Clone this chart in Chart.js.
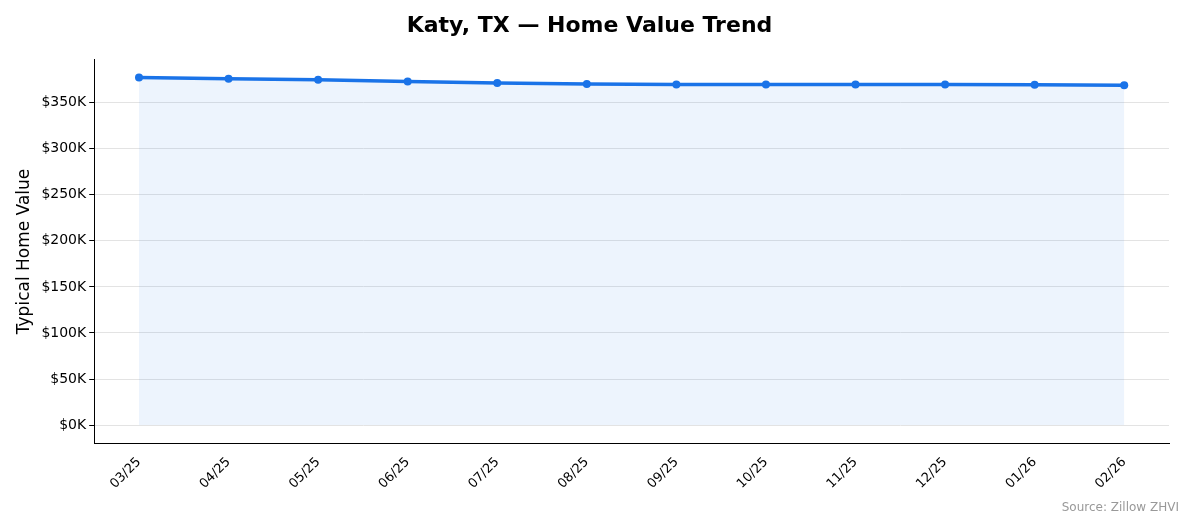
<!DOCTYPE html>
<html><head><meta charset="utf-8">
<script src="https://cdn.jsdelivr.net/npm/chart.js@4"></script>
<style>body{margin:0;background:#fff}#w{position:relative;width:1194px;height:529px}
#src{position:absolute;right:15px;bottom:15px;font:12px "DejaVu Sans";color:#999}</style>
</head><body><div id="w"><canvas id="c" width="1194" height="529"></canvas><div id="src">Source: Zillow ZHVI</div></div>
<script>
const labels=["03/25","04/25","05/25","06/25","07/25","08/25","09/25","10/25","11/25","12/25","01/26","02/26"];
const values=[377400,375900,374800,373000,371400,370300,369700,369700,369700,369700,369600,368900];
const yTicks=[0,50000,100000,150000,200000,250000,300000,350000];
new Chart(document.getElementById('c'),{type:'line',
data:{labels,datasets:[{data:values,borderColor:'#1a73e8',borderWidth:3.5,pointRadius:4,pointBackgroundColor:'#1a73e8',pointBorderWidth:0,fill:'origin',backgroundColor:'rgba(26,115,232,0.08)',tension:0}]},
options:{responsive:false,animation:false,layout:{padding:{left:10,right:25,top:5,bottom:34}},
plugins:{legend:{display:false},title:{display:true,text:'Katy, TX — Home Value Trend',font:{family:'DejaVu Sans',size:22,weight:'bold'},color:'#000',padding:{top:8,bottom:20}}},
scales:{x:{offset:true,grid:{display:false,drawTicks:true},border:{color:'#000'},ticks:{color:'#000',font:{family:'DejaVu Sans',size:13},maxRotation:45,minRotation:45}},
y:{min:-20000,max:397000,afterBuildTicks:a=>{a.ticks=yTicks.map(v=>({value:v}));},border:{color:'#000'},grid:{color:'#e3e3e3',drawTicks:true,tickColor:'#000',tickLength:5},
ticks:{color:'#000',font:{family:'DejaVu Sans',size:14},callback:v=>'$'+(v/1000)+'K'},
title:{display:true,text:'Typical Home Value',font:{family:'DejaVu Sans',size:17},color:'#000'}}}}});
</script></body></html>
